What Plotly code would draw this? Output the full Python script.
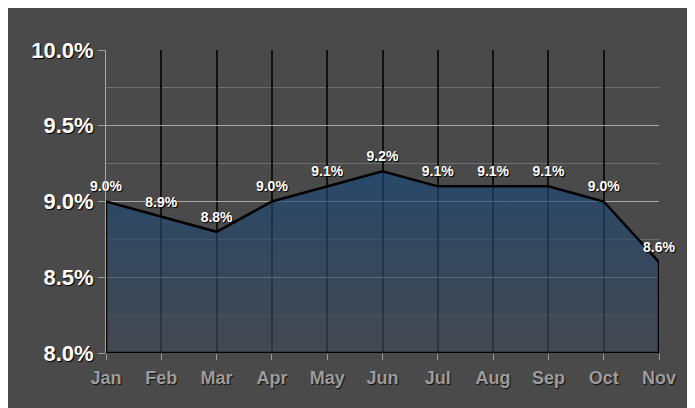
import plotly.graph_objects as go

months = ["Jan", "Feb", "Mar", "Apr", "May", "Jun", "Jul", "Aug", "Sep", "Oct", "Nov"]
rates = [9.0, 8.9, 8.8, 9.0, 9.1, 9.2, 9.1, 9.1, 9.1, 9.0, 8.6]
y_ticks = [8.0, 8.5, 9.0, 9.5, 10.0]
y_tick_labels = ["8.0%", "8.5%", "9.0%", "9.5%", "10.0%"]
baseline = 8.0
y_top = 10.0

# page has an 8px body margin; size the figure to fill the rest
W, H = 687, 400
L, R, T, B = 98, 36, 42, 55

idx = list(range(len(months)))
poly_x = idx + [idx[-1], idx[0], idx[0]]
poly_y = rates + [baseline, baseline, rates[0]]

fig = go.Figure()
fig.add_trace(go.Scatter(
    x=poly_x, y=poly_y, mode="lines", fill="toself",
    line=dict(color="black", width=2.5),
    fillgradient=dict(type="vertical", start=baseline, stop=max(rates),
                      colorscale=[[0, "rgba(65,71,83,0.65)"], [1, "rgba(22,71,122,0.65)"]]),
    hoverinfo="skip", showlegend=False,
))
fig.add_trace(go.Scatter(
    x=idx, y=rates, mode="markers+text",
    marker=dict(size=9, opacity=0),
    text=[f"{v:.1f}%" for v in rates], textposition="top center",
    textfont=dict(family="Arial", size=14, color="white", weight="bold",
                  shadow="1px 1px 1px black"),
    showlegend=False, hoverinfo="skip", cliponaxis=False,
))

fig.update_layout(
    width=W, height=H,
    margin=dict(l=L, r=R, t=T, b=B, pad=0),
    paper_bgcolor="#4a4a4a", plot_bgcolor="rgba(0,0,0,0)",
    showlegend=False,
    xaxis=dict(
        range=[0, len(months) - 1], tickvals=idx, ticktext=months,
        showgrid=True, gridcolor="#111111", gridwidth=1.5,
        ticks="outside", ticklen=6, tickcolor="#9a9a9a", tickwidth=1,
        ticklabelstandoff=2,
        tickfont=dict(family="Arial", size=18, color="#9c9c9c", weight="bold",
                      shadow="1px 1px 1px #111"),
        zeroline=False, showline=False, fixedrange=True,
    ),
    yaxis=dict(
        range=[baseline, y_top], tickvals=y_ticks, ticktext=y_tick_labels,
        showgrid=True, gridcolor="#a8a8a8", gridwidth=1,
        minor=dict(dtick=0.25, showgrid=True, gridcolor="#6e6e6e", gridwidth=1),
        ticks="outside", ticklen=7, tickcolor="#9a9a9a", tickwidth=1,
        tickfont=dict(family="Arial", size=22, color="white", weight="bold",
                      shadow="1px 1px 1px #000"),
        showline=True, linecolor="#a8a8a8", linewidth=1,
        zeroline=False, fixedrange=True,
    ),
)

fig.write_html("out.html")
